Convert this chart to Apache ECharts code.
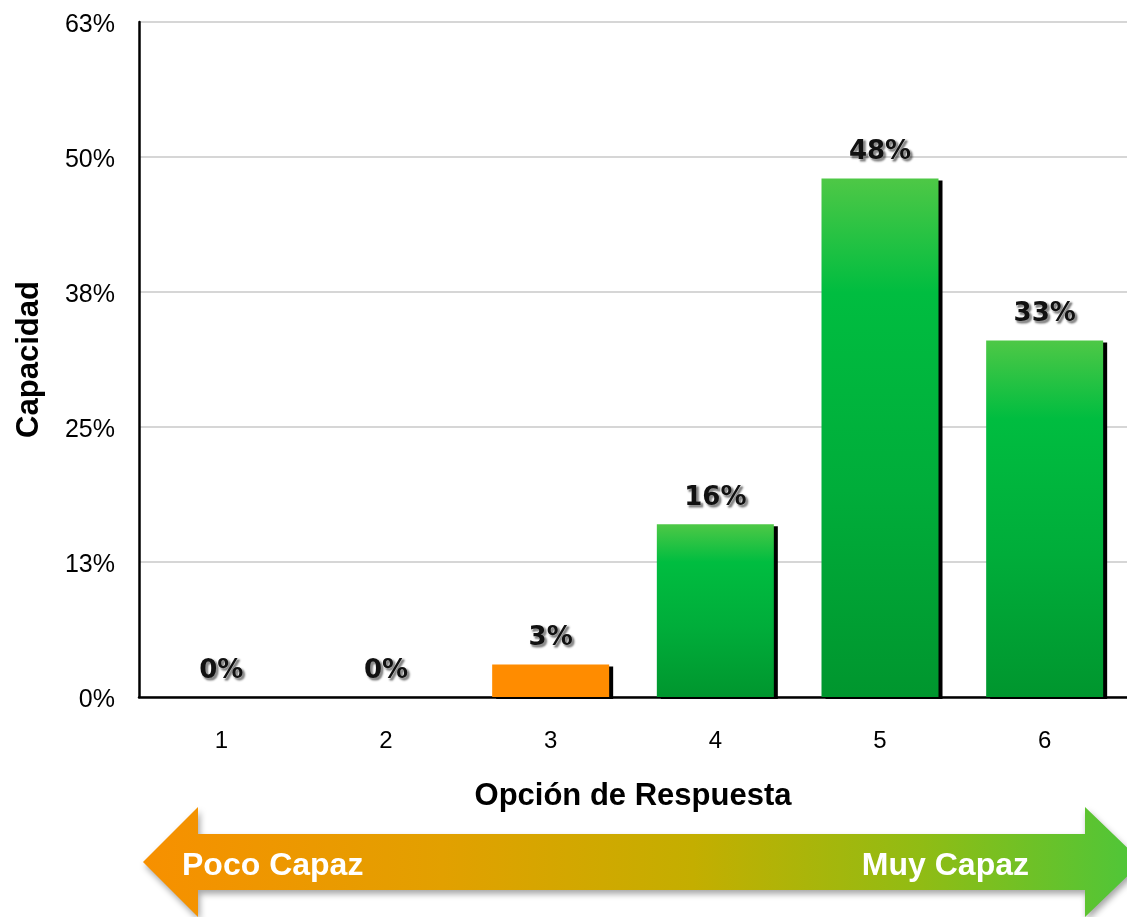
<!DOCTYPE html>
<html>
<head>
<meta charset="utf-8">
<title>Capacidad por opción de respuesta</title>
<script src="https://cdn.jsdelivr.net/npm/echarts@6/dist/echarts.min.js"></script>
<style>
  html, body { margin: 0; padding: 0; background: #ffffff; }
  #chart { width: 1127px; height: 917px; }
</style>
</head>
<body>
<div id="chart"></div>
<script>
// Response options and the share of answers for each one (%)
const categories = ['1', '2', '3', '4', '5', '6'];
const values = [0, 0, 3, 16, 48, 33];
// Scale endpoints shown under the chart
const scaleLabels = ['Poco Capaz', 'Muy Capaz'];
const axisNames = { x: 'Opción de Respuesta', y: 'Capacidad' };

const FONT = '"Liberation Sans", Arial, Helvetica, sans-serif';

const greenFill = new echarts.graphic.LinearGradient(0, 0, 0, 1, [
  { offset: 0, color: '#4ec846' },
  { offset: 0.22, color: '#00bd40' },
  { offset: 0.6, color: '#00ad3a' },
  { offset: 1, color: '#00962e' }
]);

// Options 1–3 sit on the low end of the scale and are drawn in orange
function barStyle(idx) {
  const low = Number(categories[idx]) <= 3;
  return {
    color: low ? '#ff8c00' : greenFill,
    shadowColor: '#000000',
    shadowBlur: 0,
    shadowOffsetX: 4,
    shadowOffsetY: 2
  };
}

const chart = echarts.init(document.getElementById('chart'), null, { renderer: 'canvas' });

const arrowTop = 807, arrowBottom = 917, bodyTop = 834, bodyBottom = 890;
const arrowMid = (arrowTop + arrowBottom) / 2;

const scaleTextStyle = {
  fontFamily: FONT,
  fontSize: 32,
  fontWeight: 'bold',
  fill: '#ffffff',
  shadowColor: 'rgba(0,0,0,0.45)',
  shadowBlur: 3,
  shadowOffsetX: 2,
  shadowOffsetY: 2
};

chart.setOption({
  backgroundColor: '#ffffff',
  animation: false,
  grid: { left: 139, right: -2, top: 22, bottom: 220, containLabel: false },
  xAxis: {
    type: 'category',
    data: categories,
    name: axisNames.x,
    nameLocation: 'middle',
    nameGap: 84,
    nameTextStyle: { fontFamily: FONT, fontSize: 31, fontWeight: 'bold', color: '#000' },
    axisLine: { lineStyle: { color: '#000', width: 2.5 } },
    axisTick: { show: false },
    axisLabel: { fontFamily: FONT, fontSize: 24, color: '#000', margin: 32 }
  },
  yAxis: {
    type: 'value',
    min: 0,
    max: 62.5,
    interval: 12.5,
    name: axisNames.y,
    nameLocation: 'middle',
    nameRotate: 90,
    nameGap: 94,
    nameTextStyle: { fontFamily: FONT, fontSize: 31, fontWeight: 'bold', color: '#000' },
    axisLine: { show: true, lineStyle: { color: '#000', width: 2.5 } },
    axisTick: { show: false },
    axisLabel: {
      color: '#000', margin: 24,
      formatter: v => '{t|' + Math.round(v) + '%}',
      rich: {
        t: { fontFamily: FONT, fontSize: 25, color: '#000', padding: [7, 0, 0, 0] }
      }
    },
    splitLine: { lineStyle: { color: '#c8c8c8', width: 1.5 } }
  },
  series: [{
    type: 'bar',
    barWidth: 117,
    data: values.map((v, i) => ({ value: v, itemStyle: barStyle(i) })),
    label: {
      show: true,
      position: 'top',
      distance: 13,
      formatter: p => p.value + '%',
      fontFamily: '"DejaVu Sans", ' + FONT,
      fontSize: 26,
      fontWeight: 'bold',
      color: '#111',
      textBorderColor: '#ffffff',
      textBorderWidth: 1,
      textShadowColor: 'rgba(0,0,0,0.45)',
      textShadowBlur: 2,
      textShadowOffsetX: 2,
      textShadowOffsetY: 2
    }
  }],
  graphic: [
    {
      type: 'polygon',
      z: 10,
      shape: {
        points: [
          [143, arrowMid], [198, arrowTop], [198, bodyTop],
          [1085, bodyTop], [1085, arrowTop], [1142, arrowMid],
          [1085, arrowBottom], [1085, bodyBottom], [198, bodyBottom],
          [198, arrowBottom]
        ]
      },
      style: {
        fill: new echarts.graphic.LinearGradient(0, 0, 1, 0, [
          { offset: 0, color: '#f79000' },
          { offset: 0.3, color: '#e2a000' },
          { offset: 0.55, color: '#c4ae00' },
          { offset: 0.78, color: '#90bc14' },
          { offset: 1, color: '#4cc63a' }
        ]),
        shadowColor: 'rgba(0,0,0,0.35)',
        shadowBlur: 6,
        shadowOffsetX: 2,
        shadowOffsetY: 4
      }
    },
    {
      type: 'text',
      z: 11,
      left: 182,
      top: arrowMid - 12,
      style: Object.assign({ text: scaleLabels[0] }, scaleTextStyle)
    },
    {
      type: 'text',
      z: 11,
      right: 1127 - 1029,
      top: arrowMid - 12,
      style: Object.assign({ text: scaleLabels[1] }, scaleTextStyle)
    }
  ]
});
</script>
</body>
</html>
